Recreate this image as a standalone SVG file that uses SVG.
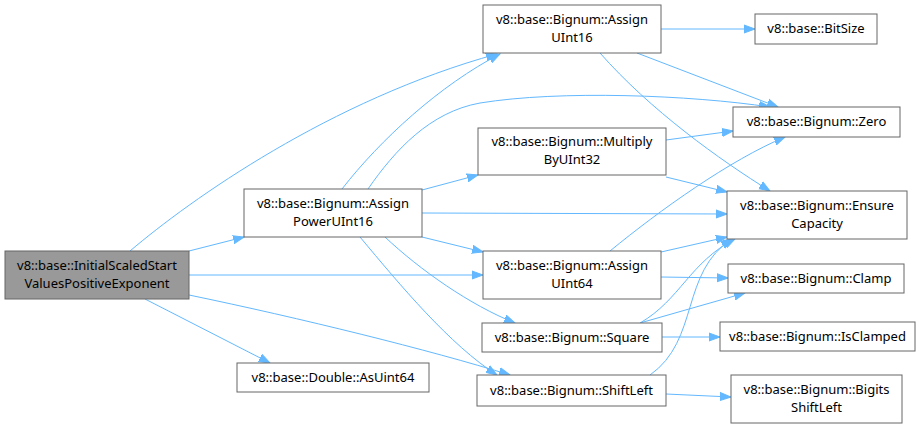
<svg xmlns="http://www.w3.org/2000/svg" width="923" height="429" viewBox="0 0 923 429">
<style>
.n rect{fill:#fff;stroke:#666;stroke-width:1}
.n text{font-family:"Noto Sans","DejaVu Sans",sans-serif;font-size:13px;fill:#000;text-anchor:middle}
#main rect{fill:#999}
.e path{fill:none;stroke:#63b8ff;stroke-width:1;marker-end:url(#ah)}
</style>
<defs>
<marker id="ah" markerUnits="userSpaceOnUse" markerWidth="12" markerHeight="10" refX="11" refY="5" orient="auto">
<path d="M0,1 L11,5 L0,9 z" fill="#63b8ff" stroke="#63b8ff"/>
</marker>
</defs>
<rect width="923" height="429" fill="#fff"/>
<g class="e">
<path d="M130,251 C190,200 330,100 497,54"/>
<path d="M189,251 L244,237"/>
<path d="M189,275 L483,275"/>
<path d="M189,295 C300,318 430,350 510,375"/>
<path d="M145,299 L270,363"/>
<path d="M342,189 C380,140 440,85 500,54"/>
<path d="M368,189 C395,150 430,112 480,103 C560,90 690,95 770,107"/>
<path d="M422,190 L478,175"/>
<path d="M422,213 L727,214"/>
<path d="M422,237 L483,252"/>
<path d="M385,237 C420,270 470,305 515,323"/>
<path d="M360,237 C400,285 450,345 497,375"/>
<path d="M661,29 L755,29"/>
<path d="M637,53 L778,107"/>
<path d="M600,53 C650,110 720,160 770,191"/>
<path d="M666,140 L733,131"/>
<path d="M666,177 L727,192"/>
<path d="M610,251 C660,210 730,160 785,137"/>
<path d="M661,252 L727,237"/>
<path d="M661,277 L728,278"/>
<path d="M640,323 C680,300 690,262 735,239"/>
<path d="M640,323 L745,293"/>
<path d="M662,337 L720,337"/>
<path d="M650,375 C700,340 680,272 732,239"/>
<path d="M666,394 L731,397"/>
</g>
<g id="main" class="n"><rect x="5" y="251" width="184" height="48"/><text x="97" y="270">v8::base::InitialScaledStart</text><text x="97" y="288">ValuesPositiveExponent</text></g>
<g id="apu16" class="n"><rect x="244" y="189" width="178" height="48"/><text x="333" y="208">v8::base::Bignum::Assign</text><text x="333" y="226">PowerUInt16</text></g>
<g id="au16" class="n"><rect x="483" y="5" width="178" height="48"/><text x="572" y="24">v8::base::Bignum::Assign</text><text x="572" y="42">UInt16</text></g>
<g id="mul" class="n"><rect x="478" y="128" width="188" height="47"/><text x="572" y="146">v8::base::Bignum::Multiply</text><text x="572" y="164">ByUInt32</text></g>
<g id="au64" class="n"><rect x="483" y="251" width="178" height="48"/><text x="572" y="270">v8::base::Bignum::Assign</text><text x="572" y="288">UInt64</text></g>
<g id="square" class="n"><rect x="482" y="323" width="180" height="29"/><text x="572" y="342">v8::base::Bignum::Square</text></g>
<g id="shift" class="n"><rect x="477" y="375" width="189" height="31"/><text x="571.5" y="395">v8::base::Bignum::ShiftLeft</text></g>
<g id="asuint64" class="n"><rect x="237" y="363" width="192" height="29"/><text x="333" y="382">v8::base::Double::AsUint64</text></g>
<g id="bitsize" class="n"><rect x="755" y="14" width="122" height="30"/><text x="816" y="33">v8::base::BitSize</text></g>
<g id="zero" class="n"><rect x="733" y="107" width="167" height="30"/><text x="816.5" y="126">v8::base::Bignum::Zero</text></g>
<g id="ensure" class="n"><rect x="727" y="191" width="180" height="48"/><text x="817" y="210">v8::base::Bignum::Ensure</text><text x="817" y="228">Capacity</text></g>
<g id="clamp" class="n"><rect x="728" y="264" width="176" height="29"/><text x="816" y="283">v8::base::Bignum::Clamp</text></g>
<g id="isclamped" class="n"><rect x="720" y="322" width="195" height="29"/><text x="817.5" y="341">v8::base::Bignum::IsClamped</text></g>
<g id="bigits" class="n"><rect x="731" y="375" width="171" height="48"/><text x="816.5" y="394">v8::base::Bignum::Bigits</text><text x="816.5" y="412">ShiftLeft</text></g>
</svg>
